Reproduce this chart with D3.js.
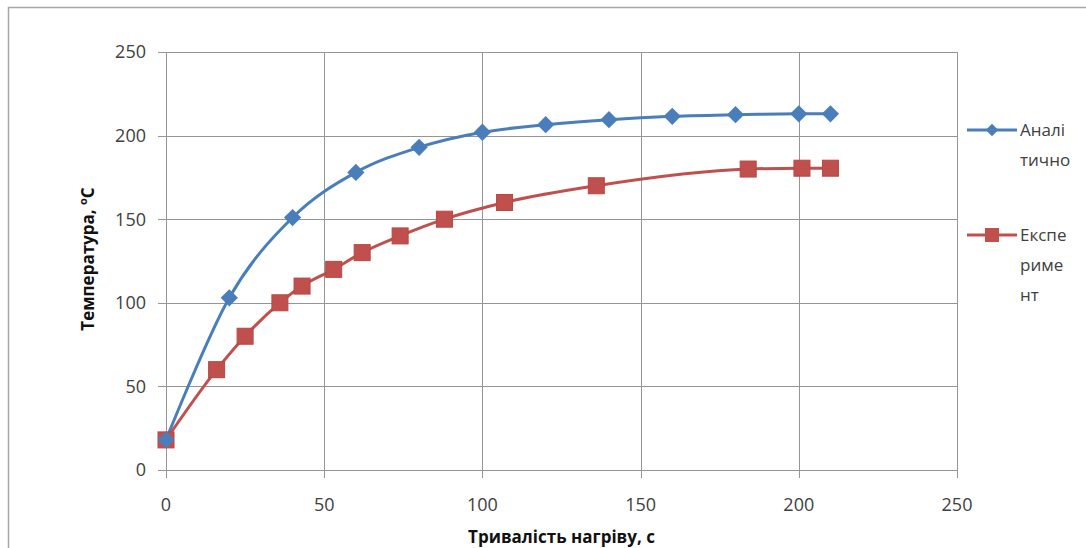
<!DOCTYPE html>
<html>
<head>
<meta charset="utf-8">
<script src="https://cdn.jsdelivr.net/npm/d3@7"></script>
<style>
  body { margin: 0; background: #fff; }
  svg { display: block; font-family: "Open Sans", "Liberation Sans", sans-serif; }
</style>
</head>
<body>
<svg id="chart" width="1086" height="548"></svg>
<script>
// Аналітично
const analyticX = [0, 20, 40, 60, 80, 100, 120, 140, 160, 180, 200, 210];
const analyticY = [18, 103, 151, 178, 193, 202, 206.5, 209.5, 211.5, 212.5, 213, 213];
// Експеримент
const experX = [0, 16, 25, 36, 43, 53, 62, 74, 88, 107, 136, 184, 201, 210];
const experY = [18, 60, 80, 100, 110, 120, 130, 140, 150, 160, 170, 180, 180.5, 180.5];
const xTicks = [0, 50, 100, 150, 200, 250];
const yTicks = [0, 50, 100, 150, 200, 250];

const width = 1086, height = 548;
const margin = { top: 52, right: 129, bottom: 78, left: 166 };

const svg = d3.select("#chart");

// chart area border
svg.append("rect")
  .attr("x", 8.5).attr("y", 7.5)
  .attr("width", width + 10).attr("height", height + 10)
  .attr("fill", "none").attr("stroke", "#a6a6a6").attr("stroke-width", 1.5);

const x = d3.scaleLinear().domain([0, 250]).range([margin.left, width - margin.right]);
const y = d3.scaleLinear().domain([0, 250]).range([height - margin.bottom, margin.top]);

// gridlines
svg.append("g").selectAll("line.h")
  .data(yTicks).enter().append("line")
  .attr("x1", x(0) - 8).attr("x2", x(250))
  .attr("y1", d => Math.round(y(d)) + 0.5).attr("y2", d => Math.round(y(d)) + 0.5)
  .attr("stroke", "#959595").attr("stroke-width", 1);

svg.append("g").selectAll("line.v")
  .data(xTicks).enter().append("line")
  .attr("y1", y(250)).attr("y2", y(0) + 8)
  .attr("x1", d => Math.round(x(d)) + 0.5).attr("x2", d => Math.round(x(d)) + 0.5)
  .attr("stroke", "#959595").attr("stroke-width", 1);

// tick labels
svg.append("g").selectAll("text")
  .data(yTicks).enter().append("text")
  .attr("x", x(0) - 20).attr("y", d => y(d))
  .attr("dy", "0.35em")
  .attr("text-anchor", "end")
  .attr("font-size", 18).attr("fill", "#404040")
  .text(d => d);

svg.append("g").selectAll("text")
  .data(xTicks).enter().append("text")
  .attr("x", d => x(d)).attr("y", y(0) + 41)
  .attr("text-anchor", "middle")
  .attr("font-size", 18).attr("fill", "#404040")
  .text(d => d);

// axis titles
svg.append("text")
  .attr("x", (x(0) + x(250)) / 2).attr("y", 543)
  .attr("text-anchor", "middle")
  .attr("font-size", 17).attr("font-weight", "bold").attr("fill", "#111")
  .text("Тривалість нагріву, с");

const yt = svg.append("text")
  .attr("transform", `translate(94, ${(y(0) + y(250)) / 2 - 2}) rotate(-90)`)
  .attr("text-anchor", "middle")
  .attr("font-size", 17).attr("font-weight", "bold").attr("fill", "#111");
yt.append("tspan").text("Температура, ");
yt.append("tspan").attr("font-size", 11).attr("dy", -7).text("o");
yt.append("tspan").attr("dy", 7).text("C");

const lineA = d3.line()
  .x(d => x(d[0])).y(d => y(d[1]))
  .curve(d3.curveCardinal.tension(0));
const lineE = d3.line()
  .x(d => x(d[0])).y(d => y(d[1]))
  .curve(d3.curveMonotoneX);

const blue = "#4a7ebb", red = "#c0504d";
const aData = analyticX.map((d, i) => [d, analyticY[i]]);
const eData = experX.map((d, i) => [d, experY[i]]);

svg.append("path").datum(eData)
  .attr("d", lineE).attr("fill", "none")
  .attr("stroke", red).attr("stroke-width", 3);
svg.append("path").datum(aData)
  .attr("d", lineA).attr("fill", "none")
  .attr("stroke", blue).attr("stroke-width", 3);

const diamond = d3.symbol().type(d3.symbolDiamond2).size(190);

svg.append("g").selectAll("rect")
  .data(eData).enter().append("rect")
  .attr("x", d => x(d[0]) - 8).attr("y", d => y(d[1]) - 8)
  .attr("width", 16).attr("height", 16)
  .attr("fill", red).attr("stroke", "#b94643").attr("stroke-width", 1);

svg.append("g").selectAll("path")
  .data(aData).enter().append("path")
  .attr("d", diamond)
  .attr("transform", d => `translate(${x(d[0])},${y(d[1])})`)
  .attr("fill", blue);

// legend
const legend = [
  { color: blue, y: 130, lines: ["Аналі", "тично"], type: "diamond" },
  { color: red, y: 235, lines: ["Експе", "риме", "нт"], type: "square" }
];
const lg = svg.append("g").selectAll("g")
  .data(legend).enter().append("g")
  .attr("transform", d => `translate(967, ${d.y})`);

lg.append("line")
  .attr("x1", 0).attr("x2", 50)
  .attr("stroke", d => d.color).attr("stroke-width", 3);
lg.each(function (d) {
  const g = d3.select(this);
  if (d.type === "diamond") {
    g.append("path").attr("d", d3.symbol().type(d3.symbolDiamond2).size(100))
      .attr("transform", "translate(25,0)").attr("fill", d.color);
  } else {
    g.append("rect").attr("x", 18).attr("y", -7).attr("width", 14).attr("height", 14)
      .attr("fill", d.color);
  }
  g.selectAll("text").data(d.lines).enter().append("text")
    .attr("x", 53).attr("y", (t, i) => i * 30)
    .attr("dy", "0.35em")
    .attr("font-size", 17).attr("fill", "#404040")
    .text(t => t);
});
</script>
</body>
</html>
